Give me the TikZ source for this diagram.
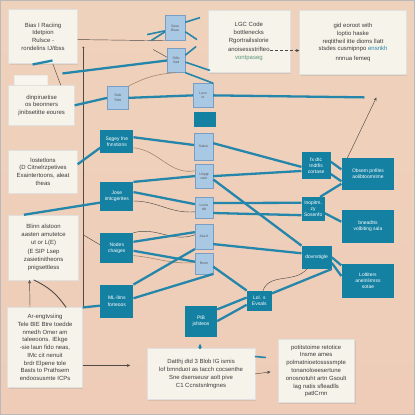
\documentclass[tikz,border=0pt]{standalone}
\usepackage{fontspec}
\setmainfont{Liberation Sans}
\usetikzlibrary{arrows.meta,calc,shadows}

\definecolor{bgtop}{RGB}{239,210,188}
\definecolor{bgmid}{RGB}{244,222,204}
\definecolor{bgbot}{RGB}{238,204,184}
\definecolor{notecream}{RGB}{246,243,235}
\definecolor{notetext}{RGB}{62,60,58}
\definecolor{notegreen}{RGB}{90,150,120}
\definecolor{tealfill}{RGB}{20,128,162}
\definecolor{linkteal}{RGB}{36,134,170}
\definecolor{paperfill}{RGB}{168,200,228}
\definecolor{paperedge}{RGB}{120,158,196}
\definecolor{wire}{RGB}{80,74,70}
\definecolor{wirebrown}{RGB}{165,135,110}

\tikzset{
  wh/.style 2 args={minimum width=#1pt, minimum height=#2pt},
  note/.style={draw=black!12, fill=notecream, inner sep=0pt, align=center,
    text=notetext, font=\fontsize{6}{7.8}\selectfont,
    drop shadow={shadow xshift=1pt, shadow yshift=-1.2pt, opacity=0.18}},
  tealbox/.style={fill=tealfill, inner sep=0pt, align=center, text=white,
    font=\fontsize{5}{6.2}\selectfont},
  paper/.style={draw=paperedge, fill=paperfill, inner sep=0pt, align=center,
    text=black!65, font=\fontsize{3.5}{4.3}\selectfont},
  link/.style={draw=linkteal, line width=2.3pt},
  flare/.style={draw=linkteal, line width=1.6pt},
  thinline/.style={draw=wire, line width=0.45pt},
  browncurve/.style={draw=wirebrown, line width=0.6pt},
  pointer/.style={draw=wire, line width=0.45pt, -{Stealth[length=3.5pt,width=3pt,fill=linkteal]}},
}

\begin{document}
\begin{tikzpicture}[x=1pt, y=-1pt]
% fond
\shade[top color=bgtop, middle color=bgmid, bottom color=bgbot] (0,0) rectangle (415,415);
\draw[gray!55, line width=1.4pt] (0,0) rectangle (415,415);
\useasboundingbox (0,0) rectangle (415,415);

% notes
\node[note, wh={69}{54}] (n1) at (42.5,36) {Bias I Raciing\\ Idetpion\\ Rulsce -\\ rondelins IJ/tbss};
\node[note, wh={82}{62}] (n2) at (249,41) {LGC Code\\ bottlenecks\\ Rgortrailsslorie\\[2pt] anoisessstrifteo\hspace{14pt}\\ {\color{notegreen}vontpaseg}};
\node[note, wh={107}{64}] (n3) at (353.5,42) {gid eoroot with\\ loptio haske\\ reqtitheil itte dioms llatt\\ stsdes cusmipnpo {\color{linkteal}ensnkh}\\[2pt] nnnua femeq};
\draw[black!8, fill=notecream!85!white] (14,75) rectangle (47,86);
\node[note, wh={66}{40}] (n4) at (41,105) {dinpiruetise\\ os beonners\\ jinibsetitte eoures};
\node[note, wh={69}{43}] (n5) at (42.5,171.5) {lostetlons\\ (D Citnelrzpetives\\ Exaintertoons, aleat\\ theas};
\node[note, wh={70}{65}] (n6) at (43,247.5) {Blinn alstoon\\ aasten amutetce\\ ut or L(E)\\[2pt] (E SIP Lsep\\ zasietinitheons\\ pnigsettless};
\node[note, wh={75}{80}] (n7) at (44.5,348) {Ar-engtvsiing\\ Tele BIE Btre toedde\\ nmedh Omer am\\ taleeoons. IEkge\\ -sie laun fido neas,\\ IMc cit nenuit\\ brdr Elpene tole\\ Basts to Prathsem\\ endoosusmte ICPs};
\node[note, wh={108}{51}] (n8) at (201,374.5) {Datthj dtd 3 Blob IG ismis\\ lof bmnduot as tacch cocsenthe\\ Sne dsenseusr aolt pive\\ C1 Ccnstsnlmgnes};
\node[note, wh={77}{63}] (n9) at (316.5,371.5) {potitstoime retotice\\ Insme ames\\ polmatnioetossssmpte\\ tonanoloeesertune\\ onosnotuht artn Gsoult\\ lag natis sfleadlls\\ patlCrnn};

% boites turquoise
\node[tealbox, wh={33}{23}] (t1) at (116.5,141.5) {Sqgey fne\\ fnnstions};
\node[tealbox, wh={33}{29}] (t2) at (116.5,196.5) {Jose\\ imtcgerites};
\node[tealbox, wh={22}{15}] (t3) at (205,119.5) {};
\node[tealbox, wh={33}{30}] (t4) at (116.5,248) {Nodes\\ chaiges};
\node[tealbox, wh={33}{33}] (t5) at (116.5,301.5) {ML-llms\\ forteoos};
\node[tealbox, wh={32}{31}] (t6) at (201,321.5) {PtB\\ jsfsteos};
\node[tealbox, wh={25}{20}] (t7) at (259.5,301) {Lol. s\\ Evsals};
\node[tealbox, wh={29}{27}] (t8) at (316.5,165.5) {fx dtc\\ tndtfis\\ cortase};
\node[tealbox, wh={53}{32}] (t9) at (368.5,174) {Obsem pnfiles\\ aolibtoomrime};
\node[tealbox, wh={23}{24}] (t10) at (313.5,209) {Inopitm.\\ zy\\ Sosenfo};
\node[tealbox, wh={53}{33}] (t11) at (368.5,226.5) {bneadtts\\ volbiting sala};
\node[tealbox, wh={30}{23}] (t12) at (317,257.5) {dovnstigle};
\node[tealbox, wh={53}{34}] (t13) at (368.5,281) {Loltiters\\ anelnlimrss\\ sotae};

% petits papiers
\node[paper, wh={21}{23}] (lb0) at (117.5,97.5) {Stsb\\ Rdrt};
\node[paper, wh={20}{25}] (lb1) at (175,27.5) {Sase\\ Bsao};
\node[paper, wh={18}{24}] (lb2) at (176,60) {Stfio\\ Sad};
\node[paper, wh={20}{24}] (lb3) at (203,95) {Lsco\\ ts};
\node[paper, wh={19}{27}] (lb4) at (203.5,146.5) {Satoo};
\node[paper, wh={18}{24}] (lb5) at (204,176) {Unpgt\\ cam};
\node[paper, wh={18}{21}] (lb6) at (204,207.5) {Louts\\ dtt};
\node[paper, wh={18}{25}] (lb7) at (204,236.5) {Asa.lt};
\node[paper, wh={18}{21}] (lb8) at (204,263.5) {Brom};

% points libres
\coordinate (c1) at (62,73);
\coordinate (e1) at (365,97);
\coordinate (e2) at (377,97);
\coordinate (v1) at (83,47);
\coordinate (v2) at (83,308);
\coordinate (v3) at (83,235);
\coordinate (a1) at (130,366);
\coordinate (k1) at (32,64);
\coordinate (k2) at (52,60);
\coordinate (f1) at (147,34);
\coordinate (f2) at (151,40);
\coordinate (f3) at (200,17);
\coordinate (f4) at (197,39);
\coordinate (f5) at (196,46);
\coordinate (f6) at (210,70);
\coordinate (f7) at (153,49);
\coordinate (s1) at (255,357);
\coordinate (s2) at (266,358);
\coordinate (m1) at (200,349);

% fils fins
\draw[thinline] (v1) -- (v2);
\fill[wire] (v1) circle (1pt);
\draw[thinline] ($(n1.east)+(0,3)$) -- (lb1.south west);
\draw[thinline] ($(n1.south west)!0.64!(n1.south east)$) -- ($(n4.north west)!0.79!(n4.north east)$);
\draw[thinline] (v3) -- (t4.170);
\draw[thinline] (f7) -- (lb2.160);
\draw[browncurve] (lb0.north east) to[bend left=12] (lb2.south);
\draw[browncurve] (t1.-20) to[out=-5,in=190] (lb5.150);
\draw[thinline] (t2.-15) to[out=0,in=185] (lb6.-155);
\draw[thinline] (t4.north east) to[out=15,in=200] (lb7.170);
\draw[browncurve] (t4.-25) to[out=-5,in=185] (lb8.175);
\draw[thinline] (t7.70) to[out=70,in=230] (t12.-130);
\draw[pointer] ($(t9.north west)+(6,0)$) -- (e2);
\draw[pointer, densely dashed] ($(n2.east)+(-20,9)$) -- ($(n3.west)+(0,8)$);
\draw[pointer] ($(n7.east)+(0,18)$) -- (a1);
\draw[pointer, shorten >=7pt] (n8.east) -- (n9.west);
\draw[pointer] ($(n7.north west)!0.3!(n7.north east)$) -- ($(n6.south west)!0.3!(n6.south east)$);
\draw[wire, line width=0.9pt] ($(n6.south west)!0.36!(n6.south east)$) to[bend left=15] ($(n7.north west)!0.78!(n7.north east)$);

% liaisons
\draw[link] (k1) -- (k2);
\draw[link] (c1) -- (lb2.west);
\draw[link] (n4.east) -- (lb0.west);
\draw[link] (lb0.east) -- (lb3.west);
\draw[link] (lb3.east) -- (e1);
\draw[flare] (f1) -- (lb1.195);
\draw[flare] (f2) -- (lb1.-160);
\draw[flare] (lb1.30) -- (f3);
\draw[flare] (lb1.-20) -- (f4);
\draw[flare] (lb2.30) -- (f5);
\draw[flare] (lb2.-10) -- (f6);
\draw[flare] (lb2.south east) -- (lb3.north east);
\draw[link] (n5.12) -- (t1.200);
\draw[link] (t1.15) -- (lb4.170);
\draw[link] (lb4.20) -- (t8.185);
\draw[link] (lb5.east) -- (t8.200);
\draw[link] (t8.15) -- (t9.170);
\draw[link] (t8.-30) -- (t9.-165);
\draw[link] (lb5.-20) -- (t12.north west);
\draw[link] (t12.-20) -- (t13.170);
\draw[link] (t12.east) -- (t13.150);
\draw[link] (t2.north east) -- (lb5.west);
\draw[link] (t2.15) -- (lb6.160);
\draw[link] (lb6.26) -- (t10.152);
\draw[link] (lb6.-31) -- (t10.-152);
\draw[link] (t10.60) -- (t9.200);
\draw[link] (t10.-20) -- (t11.170);
\draw[link] (lb7.-40) -- (t12.165);
\draw[link] ($(n6.north west)!0.22!(n6.north east)$) -- (t2.200);
\draw[link] (t4.20) -- (lb7.155);
\draw[link] (t4.-10) -- (lb8.170);
\draw[link] (t5.north east) -- (lb7.south west);
\draw[link] (t5.10) -- (lb8.south east);
\draw[link] (n7.north east) -- (t5.195);
\draw[link] (t6.36) -- (t7.166);
\draw[link] (t6.0) -- (t7.-162);
\draw[link] (lb8.-20) -- (t7.north west);
\draw[link] (t7.30) -- (t12.south east);
\draw[flare] (s1) -- (s2);
\draw[flare, -{Stealth[length=4pt,width=4pt]}] (m1) -- ($(t6.south)+(-1,7)$);
\end{tikzpicture}
\end{document}
